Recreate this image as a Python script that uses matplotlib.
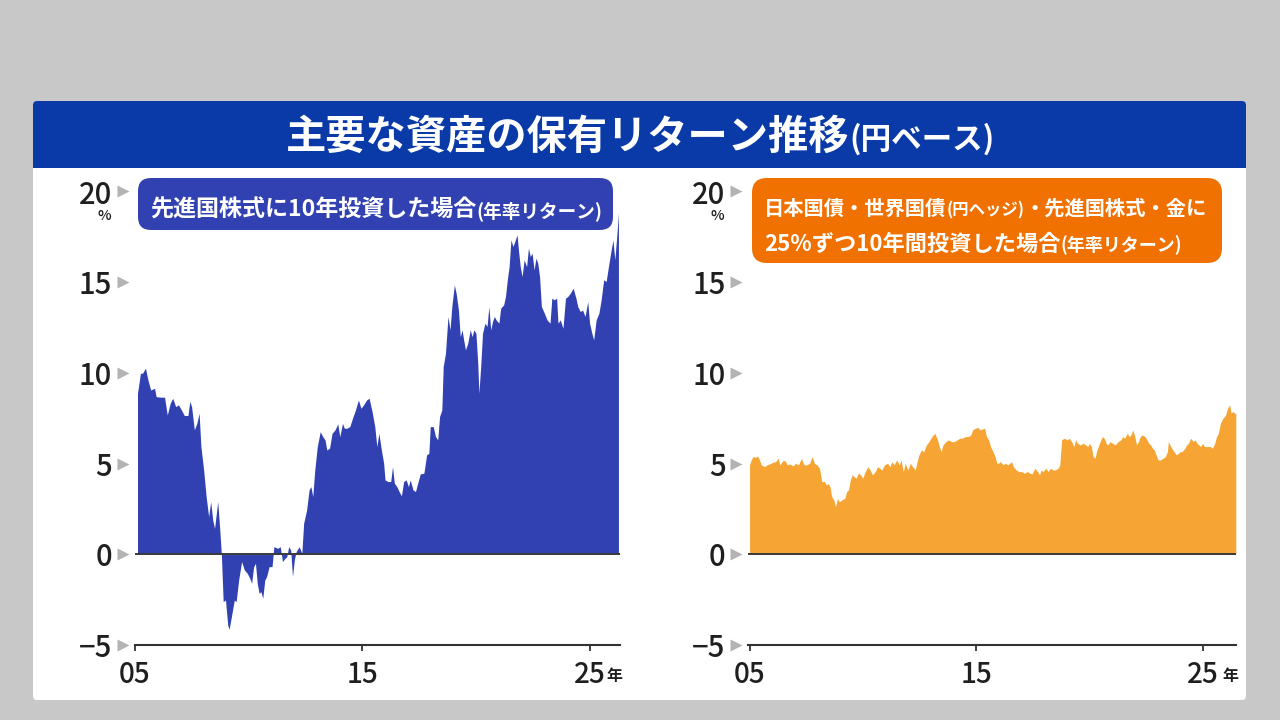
import matplotlib.pyplot as plt
import matplotlib.patches as mpatches
import matplotlib.transforms as mtransforms

plt.rcParams['font.family'] = ['Noto Sans CJK JP', 'DejaVu Sans']

# ---- data (annual return in %) ----
left_years = [
    2005.11, 2005.24, 2005.33, 2005.46, 2005.57, 2005.69, 2005.86, 2005.93, 2006.14, 2006.30,
    2006.42, 2006.55, 2006.66, 2006.79, 2006.91, 2007.04, 2007.17, 2007.33, 2007.41, 2007.49,
    2007.61, 2007.72, 2007.82, 2007.90, 2008.02, 2008.13, 2008.24, 2008.33, 2008.42, 2008.50,
    2008.64, 2008.72, 2008.80, 2008.88, 2008.98, 2009.08, 2009.14, 2009.24, 2009.37, 2009.45,
    2009.56, 2009.69, 2009.81, 2009.94, 2010.05, 2010.13, 2010.22, 2010.30, 2010.38, 2010.46,
    2010.54, 2010.62, 2010.71, 2010.79, 2010.90, 2011.03, 2011.11, 2011.28, 2011.39, 2011.49,
    2011.60, 2011.68, 2011.76, 2011.85, 2011.93, 2012.01, 2012.09, 2012.22, 2012.34, 2012.42,
    2012.55, 2012.66, 2012.74, 2012.82, 2012.91, 2013.02, 2013.15, 2013.26, 2013.36, 2013.44,
    2013.56, 2013.67, 2013.80, 2013.92, 2014.01, 2014.13, 2014.21, 2014.32, 2014.45, 2014.57,
    2014.70, 2014.83, 2014.94, 2015.06, 2015.19, 2015.30, 2015.43, 2015.55, 2015.64, 2015.73,
    2015.84, 2015.94, 2016.00, 2016.13, 2016.25, 2016.33, 2016.41, 2016.52, 2016.62, 2016.72,
    2016.82, 2016.93, 2017.03, 2017.11, 2017.23, 2017.34, 2017.44, 2017.55, 2017.71, 2017.83,
    2017.93, 2017.99, 2018.12, 2018.22, 2018.32, 2018.40, 2018.50, 2018.56, 2018.66, 2018.77,
    2018.86, 2018.94, 2019.05, 2019.13, 2019.23, 2019.31, 2019.39, 2019.46, 2019.54, 2019.64,
    2019.75, 2019.83, 2019.91, 2020.00, 2020.08, 2020.13, 2020.21, 2020.29, 2020.40, 2020.49,
    2020.57, 2020.65, 2020.73, 2020.81, 2020.89, 2021.01, 2021.09, 2021.22, 2021.30, 2021.38,
    2021.46, 2021.54, 2021.63, 2021.71, 2021.81, 2021.87, 2021.95, 2022.03, 2022.12, 2022.23,
    2022.31, 2022.39, 2022.47, 2022.56, 2022.64, 2022.72, 2022.80, 2022.88, 2023.01, 2023.13,
    2023.26, 2023.34, 2023.45, 2023.55, 2023.61, 2023.71, 2023.83, 2023.94, 2024.04, 2024.15,
    2024.28, 2024.40, 2024.48, 2024.59, 2024.69, 2024.80, 2024.92, 2025.00, 2025.10, 2025.18,
    2025.29, 2025.41, 2025.51, 2025.62, 2025.73, 2025.83, 2025.95, 2026.03, 2026.11, 2026.19,
    2026.27,
]
left_vals = [
    8.88, 9.98, 9.98, 10.26, 9.61, 9.06, 9.15, 8.69, 8.66, 8.66,
    7.68, 8.33, 8.60, 8.14, 8.24, 7.96, 7.65, 7.65, 8.42, 8.14,
    6.86, 7.22, 7.78, 5.94, 4.65, 3.18, 2.08, 2.90, 1.89, 1.43,
    2.90, 1.53, 0.00, -2.61, -2.52, -3.90, -4.14, -3.44, -2.52, -2.61,
    -1.42, -0.40, -0.86, -1.05, -1.32, -1.60, -0.68, -0.50, -1.60, -2.15,
    -2.06, -2.43, -1.42, -1.23, -0.68, -0.68, 0.42, 0.33, 0.42, -0.40,
    -0.22, -0.13, 0.42, 0.24, -1.23, -0.31, 0.15, 0.42, 0.06, 1.71,
    2.44, 3.55, 3.73, 3.18, 4.65, 5.94, 6.76, 6.49, 6.31, 5.75,
    5.85, 6.67, 6.86, 7.19, 6.49, 7.22, 6.95, 6.95, 7.04, 7.50,
    7.96, 8.51, 8.05, 8.24, 8.51, 8.60, 7.87, 7.04, 5.94, 6.67,
    5.75, 5.02, 4.10, 4.01, 4.01, 4.83, 3.92, 3.73, 3.46, 3.22,
    4.01, 4.10, 3.73, 4.10, 3.55, 3.46, 3.92, 4.43, 4.47, 5.48,
    5.57, 7.04, 7.04, 6.49, 6.31, 7.59, 7.96, 10.35, 11.08, 13.11,
    12.37, 13.66, 14.85, 14.39, 13.47, 12.00, 12.37, 11.82, 11.27, 11.64,
    12.37, 12.00, 12.37, 12.19, 10.53, 8.88, 10.35, 12.19, 12.74, 12.56,
    13.66, 12.37, 12.83, 13.11, 12.92, 12.74, 13.57, 13.75, 14.21, 15.13,
    15.86, 17.33, 16.97, 17.24, 17.61, 16.78, 15.86, 15.31, 16.23, 15.86,
    16.88, 16.42, 16.60, 15.68, 16.32, 16.05, 15.31, 13.66, 13.29, 12.92,
    12.74, 14.12, 14.03, 14.12, 12.74, 12.92, 12.46, 14.12, 14.21, 14.39,
    14.67, 14.12, 13.66, 13.38, 13.47, 13.11, 13.93, 12.74, 12.19, 11.82,
    12.92, 13.29, 14.03, 15.13, 15.04, 15.86, 16.78, 17.33, 16.23, 17.43,
    18.81,
]

right_years = [
    2005.00, 2005.07, 2005.16, 2005.28, 2005.36, 2005.44, 2005.52, 2005.66, 2005.77, 2005.88,
    2006.02, 2006.15, 2006.26, 2006.34, 2006.46, 2006.56, 2006.67, 2006.78, 2006.92, 2007.03,
    2007.16, 2007.29, 2007.41, 2007.52, 2007.65, 2007.77, 2007.86, 2007.98, 2008.09, 2008.19,
    2008.31, 2008.39, 2008.47, 2008.55, 2008.63, 2008.72, 2008.80, 2008.88, 2008.96, 2009.08,
    2009.21, 2009.29, 2009.37, 2009.45, 2009.53, 2009.62, 2009.70, 2009.81, 2009.91, 2009.99,
    2010.11, 2010.22, 2010.32, 2010.43, 2010.55, 2010.65, 2010.76, 2010.84, 2010.96, 2011.09,
    2011.20, 2011.29, 2011.38, 2011.50, 2011.61, 2011.69, 2011.79, 2011.87, 2011.99, 2012.10,
    2012.20, 2012.32, 2012.40, 2012.48, 2012.59, 2012.69, 2012.81, 2012.92, 2013.05, 2013.18,
    2013.30, 2013.38, 2013.46, 2013.54, 2013.67, 2013.79, 2013.92, 2014.03, 2014.17, 2014.28,
    2014.39, 2014.53, 2014.66, 2014.77, 2014.85, 2014.97, 2015.07, 2015.18, 2015.26, 2015.38,
    2015.46, 2015.56, 2015.64, 2015.75, 2015.84, 2015.92, 2016.00, 2016.08, 2016.20, 2016.29,
    2016.41, 2016.49, 2016.57, 2016.65, 2016.77, 2016.90, 2017.01, 2017.14, 2017.26, 2017.39,
    2017.47, 2017.60, 2017.72, 2017.80, 2017.88, 2017.96, 2018.08, 2018.18, 2018.29, 2018.40,
    2018.50, 2018.62, 2018.70, 2018.78, 2018.90, 2019.03, 2019.11, 2019.22, 2019.32, 2019.40,
    2019.48, 2019.60, 2019.73, 2019.85, 2019.93, 2020.01, 2020.09, 2020.17, 2020.25, 2020.34,
    2020.45, 2020.58, 2020.66, 2020.75, 2020.83, 2020.91, 2021.02, 2021.15, 2021.27, 2021.40,
    2021.48, 2021.56, 2021.68, 2021.76, 2021.84, 2021.92, 2022.01, 2022.09, 2022.17, 2022.25,
    2022.35, 2022.46, 2022.55, 2022.63, 2022.71, 2022.79, 2022.87, 2022.95, 2023.04, 2023.15,
    2023.25, 2023.36, 2023.45, 2023.49, 2023.56, 2023.64, 2023.74, 2023.85, 2023.94, 2024.02,
    2024.10, 2024.22, 2024.30, 2024.38, 2024.48, 2024.59, 2024.67, 2024.76, 2024.84, 2024.92,
    2025.00, 2025.08, 2025.20, 2025.33, 2025.44, 2025.54, 2025.62, 2025.70, 2025.79, 2025.90,
    2026.02, 2026.11, 2026.20, 2026.26, 2026.34, 2026.42, 2026.47,
]
right_vals = [
    4.93, 5.20, 5.39, 5.35, 5.42, 5.20, 4.93, 4.83, 4.93, 4.98,
    5.06, 5.11, 5.29, 4.93, 5.15, 5.17, 4.93, 4.98, 4.87, 5.02,
    4.93, 5.29, 4.93, 4.93, 5.02, 5.39, 5.02, 4.93, 4.74, 4.01,
    4.01, 3.82, 3.91, 3.73, 3.18, 3.00, 2.63, 3.09, 2.90, 3.00,
    3.09, 3.46, 3.55, 4.10, 4.38, 4.28, 4.19, 4.47, 4.38, 4.19,
    4.56, 4.83, 4.65, 4.38, 4.56, 4.83, 4.74, 4.65, 4.93, 5.02,
    4.83, 5.11, 4.93, 5.20, 4.93, 5.20, 4.56, 5.02, 4.65, 5.02,
    4.83, 4.65, 5.11, 5.48, 5.75, 5.66, 6.03, 6.21, 6.49, 6.67,
    6.31, 5.94, 5.66, 6.03, 6.21, 6.31, 6.21, 6.21, 6.31, 6.40,
    6.40, 6.49, 6.49, 6.58, 6.86, 6.95, 7.00, 6.86, 6.90, 6.95,
    6.49, 6.31, 5.94, 5.66, 5.39, 5.02, 5.02, 5.11, 4.93, 5.02,
    4.93, 5.02, 5.11, 4.83, 4.65, 4.56, 4.56, 4.47, 4.56, 4.47,
    4.43, 4.74, 4.56, 4.38, 4.65, 4.56, 4.74, 4.56, 4.74, 4.65,
    4.65, 4.74, 4.93, 6.31, 6.40, 6.31, 6.40, 6.21, 5.94, 6.31,
    6.12, 6.03, 6.12, 6.03, 5.94, 6.12, 5.94, 5.39, 5.29, 5.75,
    6.12, 6.49, 6.40, 6.12, 6.03, 6.21, 6.12, 6.03, 6.21, 6.31,
    6.49, 6.40, 6.67, 6.49, 6.58, 6.86, 6.49, 6.03, 6.21, 6.49,
    6.58, 6.49, 6.31, 6.12, 6.03, 5.85, 5.75, 5.48, 5.20, 5.20,
    5.29, 5.39, 5.66, 6.21, 6.03, 5.85, 5.66, 5.48, 5.57, 5.66,
    5.66, 5.85, 6.03, 6.12, 6.40, 6.21, 6.31, 6.12, 6.03, 5.94,
    6.12, 5.94, 5.94, 5.94, 5.85, 6.12, 6.49, 6.67, 7.22, 7.50,
    7.68, 8.05, 8.24, 7.78, 7.87, 7.78, 7.78,
]

x_ticks = [2005, 2015, 2025]
x_labels = ['05', '15', '25']
y_ticks = [-5, 0, 5, 10, 15, 20]
y_labels = ['−5', '0', '5', '10', '15', '20']

title_main = '主要な資産の保有リターン推移'
title_sub = '(円ベース)'

BG = '#c8c8c8'
BANNER = '#0a3aa8'
BLUE_FILL = '#3141b1'
ORANGE_FILL = '#f6a534'
ORANGE_BOX = '#f07000'
INK = '#1f1f1f'
TICK_WEIGHT = 'medium'


def draw_parts(ax, x, y, parts, align='left', color='white'):
    """Draw text pieces of different size one after another on a common baseline."""
    renderer = ax.figure.canvas.get_renderer()
    texts = [ax.text(x, y, s, fontsize=size, color=color, fontweight='bold',
                     ha='left', va='baseline', zorder=10) for s, size in parts]
    widths = [t.get_window_extent(renderer).width for t in texts]
    start = x - sum(widths) / 2 if align == 'center' else x
    for t, w in zip(texts, widths):
        t.set_x(start)
        start += w


fig = plt.figure(figsize=(12.8, 7.2), dpi=100)
fig.patch.set_facecolor(BG)

# background layer in pixel units
bg = fig.add_axes([0, 0, 1, 1], zorder=0)
bg.set_xlim(0, 1280)
bg.set_ylim(720, 0)
bg.axis('off')

bg.add_patch(mpatches.FancyBboxPatch((33, 101), 1213, 599, boxstyle='round,pad=0,rounding_size=4',
                                     fc='white', ec='none'))
bg.add_patch(mpatches.FancyBboxPatch((33, 101), 1213, 67, boxstyle='round,pad=0,rounding_size=4',
                                     fc=BANNER, ec='none'))
bg.add_patch(mpatches.Rectangle((33, 130), 1213, 38, fc=BANNER, ec='none'))
draw_parts(bg, 640, 149, [(title_main, 29), (title_sub, 22)], align='center')

panels = [
    dict(rect=[135 / 1280, 75 / 720, 484.8 / 1280, 453.5 / 720], xlim=(2005.0, 2026.33),
         years=left_years, vals=left_vals, color=BLUE_FILL, nen_dx=25),
    dict(rect=[748.4 / 1280, 75 / 720, 487.4 / 1280, 453.5 / 720], xlim=(2004.95, 2026.47),
         years=right_years, vals=right_vals, color=ORANGE_FILL, nen_dx=28),
]

for p in panels:
    ax = fig.add_axes(p['rect'], zorder=1)
    ax.patch.set_alpha(0)
    ax.fill_between(p['years'], p['vals'], 0, color=p['color'], lw=0, zorder=2)
    ax.axhline(0, color='#3a3a3a', lw=1.4, zorder=3)
    ax.set_xlim(*p['xlim'])
    ax.set_ylim(-5, 20)
    for side in ['top', 'right', 'left']:
        ax.spines[side].set_visible(False)
    ax.spines['bottom'].set_color('#333333')
    ax.spines['bottom'].set_linewidth(1.5)

    ax.set_xticks(x_ticks)
    ax.set_xticklabels(x_labels, fontweight=TICK_WEIGHT)
    ax.tick_params(axis='x', direction='out', length=4, width=1.3, color='#333333',
                   labelsize=20, labelcolor=INK, pad=7)
    ax.set_yticks(y_ticks)
    ax.set_yticklabels(y_labels, fontweight=TICK_WEIGHT)
    ax.tick_params(axis='y', length=0, labelsize=21, labelcolor=INK, pad=16.5)

    # grey arrow heads next to the y labels
    trans = mtransforms.blended_transform_factory(ax.transAxes, ax.transData)
    tri = mtransforms.offset_copy(trans, fig=fig, x=-12, y=0, units='dots')
    for v in y_ticks:
        ax.plot([0], [v], marker='>', ms=9, color='#b3b3b3', mec='none',
                transform=tri, clip_on=False)

    trans_pct = mtransforms.offset_copy(trans, fig=fig, x=-24, y=-25, units='dots')
    ax.text(0, 20, '%', transform=trans_pct, ha='right', va='center', fontsize=10.5,
            fontweight=TICK_WEIGHT, color=INK)
    ax.annotate('年', xy=(2025, -5), xytext=(p['nen_dx'], -31), textcoords='offset pixels',
                ha='center', va='center', fontsize=11.5, fontweight='bold', color=INK,
                annotation_clip=False)

# subtitle boxes on an overlay layer
top = fig.add_axes([0, 0, 1, 1], zorder=2)
top.set_xlim(0, 1280)
top.set_ylim(720, 0)
top.axis('off')

top.add_patch(mpatches.FancyBboxPatch((138, 178), 475, 52, boxstyle='round,pad=0,rounding_size=13',
                                      fc=BLUE_FILL, ec='none'))
draw_parts(top, 150, 217, [('先進国株式に10年投資した場合', 16.6), ('(年率リターン)', 13.4)])

top.add_patch(mpatches.FancyBboxPatch((752, 178), 470, 85, boxstyle='round,pad=0,rounding_size=15',
                                      fc=ORANGE_BOX, ec='none'))
draw_parts(top, 764, 215, [('日本国債・世界国債', 14.6), ('(円ヘッジ)', 11.8), ('・先進国株式・金に', 14.6)])
draw_parts(top, 764, 251, [('25%ずつ10年間投資した場合', 16.0), ('(年率リターン)', 13.0)])

fig.savefig('out.png', dpi=100, facecolor=fig.get_facecolor())
